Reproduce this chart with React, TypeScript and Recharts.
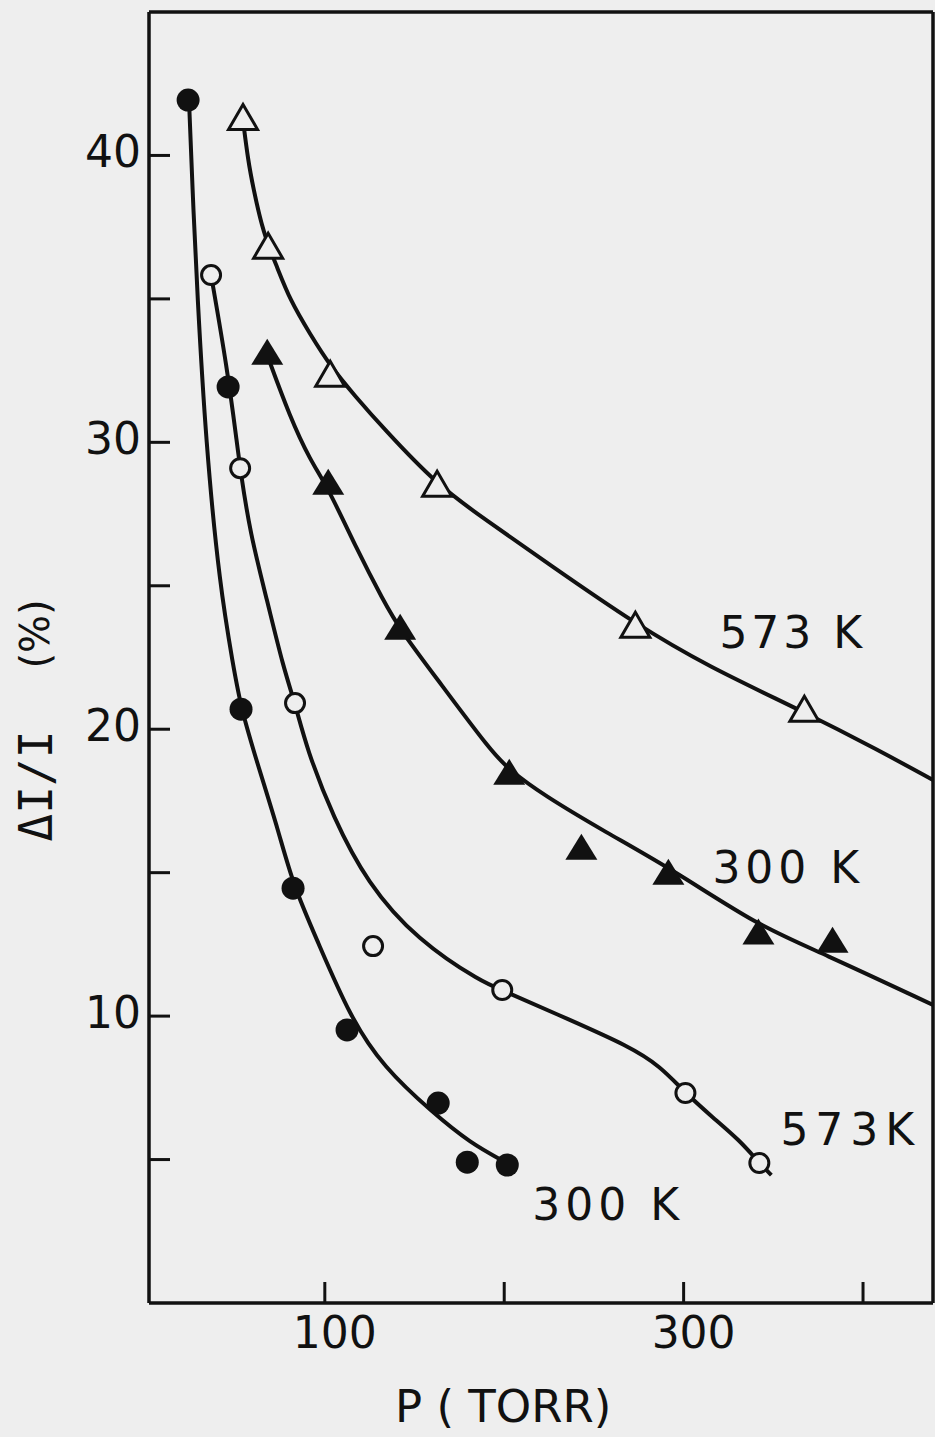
import React from 'react';
import {
  ComposedChart,
  Line,
  Scatter,
  XAxis,
  YAxis,
  ReferenceLine,
  ReferenceDot,
} from 'recharts';

const BG = '#eeeeee';
const INK = '#111111';
const FONT = '"DejaVu Sans", sans-serif';

// ---- measured points ----
// 300 K, filled circles
const fcP = [23.8, 46.1, 53.3, 82.3, 112.4, 163.2, 179.4, 201.7];
const fcV = [41.93, 31.93, 20.7, 14.46, 9.52, 6.97, 4.91, 4.81];
// 573 K, open circles
const ocP = [36.6, 52.8, 83.4, 126.9, 198.9, 301.0, 342.2];
const ocV = [35.83, 29.1, 20.91, 12.44, 10.91, 7.32, 4.88];
// 300 K, filled triangles
const ftP = [67.9, 101.9, 142.0, 202.8, 243.0, 291.5, 341.7, 383.0];
const ftV = [33.11, 28.58, 23.53, 18.47, 15.86, 14.99, 12.9, 12.62];
// 573 K, open triangles
const otP = [54.4, 68.4, 103.0, 162.6, 273.1, 367.3];
const otV = [41.3, 36.81, 32.35, 28.51, 23.6, 20.67];

// ---- hand-drawn fitted curves ----
const fcCurveP = [24.3, 26.5, 28.8, 33.7, 41.5, 48.9, 53.3, 63.9, 74.0, 82.3, 95.7, 114.1, 132.5, 160.4, 181.0, 200.6];
const fcCurveV = [41.93, 38.45, 35.31, 29.94, 24.96, 22.24, 20.7, 18.51, 16.49, 14.57, 12.65, 9.97, 8.23, 6.62, 5.58, 4.91];

const ocCurveP = [36.6, 45.5, 51.1, 52.8, 58.3, 67.8, 76.8, 83.4, 90.1, 104.6, 123.6, 151.5, 188.3, 198.9, 236.8, 269.2, 287.0, 301.0, 316.0, 331.1, 342.2, 348.9];
const ocCurveV = [35.83, 32.62, 29.94, 29.1, 26.84, 24.5, 22.17, 20.91, 19.28, 16.94, 14.64, 12.65, 11.15, 10.91, 9.86, 8.96, 8.26, 7.32, 6.48, 5.68, 4.88, 4.46];

const ftCurveP = [67.9, 80.6, 91.8, 101.9, 118.0, 132.5, 142.0, 164.3, 192.2, 202.8, 221.7, 256.3, 294.3, 341.7, 376.2, 439.0];
const ftCurveV = [33.04, 30.88, 29.38, 28.41, 26.25, 24.5, 23.46, 21.61, 19.27, 18.58, 17.71, 16.42, 15.09, 13.14, 12.23, 10.39];

const otCurveP = [54.4, 57.2, 60.0, 65.6, 73.4, 80.6, 91.8, 103.0, 116.9, 132.5, 162.6, 188.3, 225.7, 273.1, 313.2, 367.3, 408.6, 439.0];
const otCurveV = [41.23, 39.84, 38.9, 37.3, 36.11, 34.96, 33.77, 32.66, 31.61, 30.5, 28.51, 27.36, 25.72, 23.67, 22.2, 20.6, 19.27, 18.23];

// ---- axes ----
const xDomain = [2, 439];
const yDomain = [0, 45];
const xTicks = [100, 200, 300, 400];
const xLabeled = [100, 300];
const yTicks = [5, 10, 15, 20, 25, 30, 35, 40];
const yLabeled = [10, 20, 30, 40];

// ---- curve labels ----
const annText = ['573 K', '300 K', '573K', '300 K'];
const annP = [321.6, 317.7, 355.6, 217.3];
const annV = [22.83, 14.64, 5.51, 2.89];
const annSpacing = [4, 5, 7, 5];

const zip = (xs: number[], ys: number[]) => xs.map((x, i) => ({ x, y: ys[i] }));

const FilledCircle = (p: any) => <circle cx={p.cx} cy={p.cy} r={11.5} fill={INK} />;
const OpenCircle = (p: any) => (
  <circle cx={p.cx} cy={p.cy} r={9.5} fill={BG} stroke={INK} strokeWidth={3} />
);
const triPts = (cx: number, cy: number, w: number, h: number) =>
  `${cx},${cy - h * 0.55} ${cx - w / 2},${cy + h * 0.45} ${cx + w / 2},${cy + h * 0.45}`;
const FilledTri = (p: any) => <polygon points={triPts(p.cx, p.cy, 32, 26)} fill={INK} />;
const OpenTri = (p: any) => (
  <polygon points={triPts(p.cx, p.cy, 29, 25)} fill={BG} stroke={INK} strokeWidth={3} strokeLinejoin="miter" />
);

const YTick = (props: any) => {
  const { x, y, payload } = props;
  return (
    <g>
      <line x1={x} y1={y} x2={x + 21} y2={y} stroke={INK} strokeWidth={3} />
      {yLabeled.includes(payload.value) && (
        <text x={x - 8} y={y + 12} textAnchor="end" fontSize={44} fontFamily={FONT} fill={INK}>
          {payload.value}
        </text>
      )}
    </g>
  );
};

const XTick = (props: any) => {
  const { x, y, payload } = props;
  return (
    <g>
      <line x1={x} y1={y} x2={x} y2={y - 21} stroke={INK} strokeWidth={3} />
      {xLabeled.includes(payload.value) && (
        <text x={x + 10} y={y + 45} textAnchor="middle" fontSize={44} fontFamily={FONT} fill={INK}>
          {payload.value}
        </text>
      )}
    </g>
  );
};

const XTitle = (props: any) => {
  const vb = props.viewBox || { x: 149, y: 1303 };
  return (
    <text x={vb.x + 246} y={vb.y + 119} fontSize={45} fontFamily={FONT} fill={INK} textAnchor="start">
      P ( TORR)
    </text>
  );
};

const YTitle = (props: any) => {
  const vb = props.viewBox || { x: 149, y: 12 };
  const bx = 52;
  return (
    <g>
      <text
        transform={`translate(${bx}, ${vb.y + 774}) rotate(-90)`}
        textAnchor="middle"
        fontSize={46}
        fontFamily='"DejaVu Sans Mono", monospace'
        fill={INK}
      >
        ΔI/I
      </text>
      <text
        transform={`translate(${bx - 3}, ${vb.y + 622}) rotate(-90)`}
        textAnchor="middle"
        fontSize={40}
        fontFamily={FONT}
        fill={INK}
      >
        (%)
      </text>
    </g>
  );
};

const makeAnn = (i: number) => (p: any) => (
  <text
    x={p.cx - 3}
    y={p.cy}
    fontSize={44}
    fontFamily={FONT}
    fill={INK}
    letterSpacing={annSpacing[i]}
    style={{ whiteSpace: 'pre' }}
  >
    {annText[i]}
  </text>
);

export default function App() {
  return (
    <div
      style={{
        position: 'absolute',
        left: 0,
        top: 0,
        width: 935,
        height: 1437,
        background: BG,
        overflow: 'hidden',
      }}
    >
      <ComposedChart
        width={935}
        height={1437}
        margin={{ top: 12, right: 2, bottom: 0, left: 148 }}
      >
        <XAxis
          type="number"
          dataKey="x"
          domain={xDomain}
          allowDataOverflow
          ticks={xTicks}
          interval={0}
          height={134}
          tickSize={0}
          tickMargin={0}
          tickLine={false}
          tick={<XTick />}
          axisLine={{ stroke: INK, strokeWidth: 3.5 }}
          label={{ content: XTitle }}
        />
        <YAxis
          type="number"
          dataKey="y"
          domain={yDomain}
          allowDataOverflow
          ticks={yTicks}
          interval={0}
          width={1}
          tickSize={0}
          tickMargin={0}
          tickLine={false}
          tick={<YTick />}
          axisLine={{ stroke: INK, strokeWidth: 3.5 }}
          label={{ content: YTitle }}
        />
        <ReferenceLine y={45} stroke={INK} strokeWidth={3.5} ifOverflow="visible" />
        <ReferenceLine x={439} stroke={INK} strokeWidth={3.5} ifOverflow="visible" />

        <Line data={zip(fcCurveP, fcCurveV)} dataKey="y" type="basis" stroke={INK} strokeWidth={4} dot={false} isAnimationActive={false} />
        <Line data={zip(ocCurveP, ocCurveV)} dataKey="y" type="basis" stroke={INK} strokeWidth={4} dot={false} isAnimationActive={false} />
        <Line data={zip(ftCurveP, ftCurveV)} dataKey="y" type="basis" stroke={INK} strokeWidth={4} dot={false} isAnimationActive={false} />
        <Line data={zip(otCurveP, otCurveV)} dataKey="y" type="basis" stroke={INK} strokeWidth={4} dot={false} isAnimationActive={false} />

        <Scatter data={zip(fcP, fcV)} dataKey="y" shape={FilledCircle} isAnimationActive={false} />
        <Scatter data={zip(ocP, ocV)} dataKey="y" shape={OpenCircle} isAnimationActive={false} />
        <Scatter data={zip(ftP, ftV)} dataKey="y" shape={FilledTri} isAnimationActive={false} />
        <Scatter data={zip(otP, otV)} dataKey="y" shape={OpenTri} isAnimationActive={false} />

        {annText.map((t, i) => (
          <ReferenceDot key={t + i} x={annP[i]} y={annV[i]} r={0} shape={makeAnn(i)} />
        ))}
      </ComposedChart>
    </div>
  );
}
